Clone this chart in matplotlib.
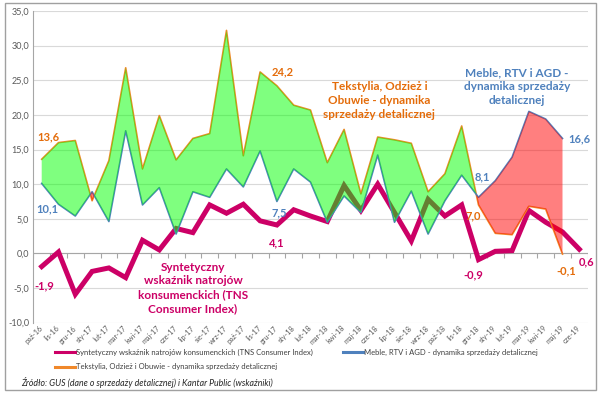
import matplotlib
matplotlib.use("Agg")
import matplotlib.pyplot as plt
import matplotlib.patches as mpatches
import numpy as np

plt.rcParams['font.family'] = ['Lato', 'DejaVu Sans']

# Data
months = ['paź-16', 'lis-16', 'gru-16', 'sty-17', 'lut-17', 'mar-17', 'kwi-17', 'maj-17',
          'cze-17', 'lip-17', 'sie-17', 'wrz-17', 'paź-17', 'lis-17', 'gru-17', 'sty-18',
          'lut-18', 'mar-18', 'kwi-18', 'maj-18', 'cze-18', 'lip-18', 'sie-18', 'wrz-18',
          'paź-18', 'lis-18', 'gru-18', 'sty-19', 'lut-19', 'mar-19', 'kwi-19', 'maj-19',
          'cze-19']
consumer = [-1.9, 0.2, -5.9, -2.6, -2.1, -3.5, 1.9, 0.5, 3.6, 3.0, 7.0, 5.8, 7.1, 4.7, 4.1,
            6.3, 5.4, 4.6, 9.8, 6.2, 10.0, 5.9, 1.8, 7.8, 5.4, 7.0, -0.9, 0.3, 0.4, 6.2,
            4.5, 3.1, 0.6]
furniture = [10.1, 7.1, 5.4, 8.9, 4.6, 17.7, 7.0, 9.5, 2.8, 8.9, 8.1, 12.2, 9.6, 14.8, 7.5,
             12.2, 10.3, 4.5, 8.3, 5.9, 14.2, 4.5, 9.0, 2.8, 7.6, 11.3, 8.1, 10.5, 13.9,
             20.5, 19.4, 16.6]
textiles = [13.6, 16.0, 16.3, 7.6, 13.4, 26.8, 12.2, 19.9, 13.5, 16.6, 17.3, 32.2, 14.1,
            26.2, 24.2, 21.4, 20.7, 13.1, 17.9, 8.6, 16.8, 16.4, 15.9, 8.9, 11.5, 18.4, 7.0,
            2.9, 2.7, 6.8, 6.4, -0.1]

PINK = '#CC0066'
BLUE = '#4F81BD'
ORANGE = '#F0882A'
ORANGE_TXT = '#E46C0A'
GRID = '#D9D9D9'
TICK = '#595959'

x = np.arange(len(months))
xf = x[:len(furniture)]
fur = np.array(furniture)
tex = np.array(textiles)

fig = plt.figure(figsize=(6.0, 3.93), dpi=100)
ax = fig.add_axes([0.0555, 0.179, 0.924, 0.793])

ax.plot(x, consumer, color=PINK, lw=3.6, solid_joinstyle='miter', zorder=2,
        label='Syntetyczny wskaźnik natrojów konsumenckich (TNS Consumer Index)')
ax.plot(xf, tex, color=ORANGE, lw=1.2, zorder=2,
        label='Tekstylia, Odzież i Obuwie - dynamika sprzedaży detalicznej')
ax.plot(xf, fur, color=BLUE, lw=1.2, zorder=2,
        label='Meble, RTV i AGD - dynamika sprzedaży detalicznej')

# shaded gap between the two retail series
late = xf >= 26
ax.fill_between(xf, tex, fur, where=(tex >= fur) & ~late, interpolate=True,
                color='#00FF00', alpha=0.5, lw=0, zorder=3)
ax.fill_between(xf, tex, fur, where=(fur >= tex) & ~(xf >= 25) | late, interpolate=True,
                color='#FF0000', alpha=0.5, lw=0, zorder=3)

ax.set_xlim(-0.5, len(months) - 0.5)
ax.set_ylim(-10, 35)
ax.set_yticks(np.arange(-10, 36, 5))
ax.set_yticklabels([f'{v:.1f}'.replace('.', ',') for v in np.arange(-10, 36, 5)],
                   fontsize=6.5, color=TICK)
ax.set_xticks(x)
ax.set_xticklabels(months, rotation=45, ha='right', va='center', rotation_mode='anchor',
                   fontsize=5.2, color=TICK)
ax.tick_params(axis='y', length=0, pad=3)
ax.tick_params(axis='x', length=0, pad=3)
ax.grid(axis='y', color=GRID, lw=0.8)
ax.set_axisbelow(True)
for s in ['top', 'right', 'bottom']:
    ax.spines[s].set_visible(False)
ax.spines['left'].set_color('#A6A6A6')
ax.spines['left'].set_linewidth(0.8)

# horizontal axis at zero with tick marks between categories
ax.axhline(0, color='#A6A6A6', lw=0.8, zorder=1)
ax.vlines(np.arange(-0.5, len(months)), -0.6, 0, color='#A6A6A6', lw=0.8, zorder=1)

# value labels
def lab(txt, xi, yi, dx, dy, color, size=8):
    ax.annotate(txt, xy=(xi, yi), xytext=(dx, dy), textcoords='offset points',
                ha='center', va='center', color=color, fontsize=size, fontweight='bold')

lab('13,6', 0, textiles[0], 5, 16, ORANGE_TXT)
lab('10,1', 0, furniture[0], 4, -18, BLUE)
lab('-1,9', 0, consumer[0], 2, -14, PINK)
lab('24,2', 14, textiles[14], 4, 10, ORANGE_TXT)
lab('7,5', 14, furniture[14], 2, -8, BLUE)
lab('4,1', 14, consumer[14], 0, -13, PINK)
lab('8,1', 26, furniture[26], 3, 15, BLUE)
lab('7,0', 26, textiles[26], -4, -8, ORANGE_TXT)
lab('-0,9', 26, consumer[26], -4, -11, PINK)
lab('16,6', 31, furniture[31], 12, 0, BLUE)
lab('-0,1', 31, textiles[31], 3, -12, ORANGE_TXT)
lab('0,6', 32, consumer[32], 5, -9, PINK)

ax.text(9.0, -4.95, 'Syntetyczny\nwskaźnik natrojów\nkonsumenckich (TNS\nConsumer Index)',
        ha='center', va='center', color=PINK, fontsize=8.5, fontweight='bold', linespacing=1.3)
ax.text(20.1, 22.1, 'Tekstylia, Odzież i\nObuwie - dynamika\nsprzedaży detalicznej',
        ha='center', va='center', color=ORANGE_TXT, fontsize=8.5, fontweight='bold',
        linespacing=1.3)
ax.text(28.3, 24.1, 'Meble, RTV i AGD -\ndynamika sprzedaży\ndetalicznej',
        ha='center', va='center', color=BLUE, fontsize=8.5, fontweight='bold',
        linespacing=1.3)

# legend under the plot
h, l = ax.get_legend_handles_labels()
leg = fig.legend(h, l, ncol=2, loc='upper left', bbox_to_anchor=(55 / 600, 1 - 349 / 393),
                 frameon=False, fontsize=5.5, handlelength=2.6, handletextpad=0.15,
                 columnspacing=4.0, labelspacing=0.95, borderaxespad=0, borderpad=0)
for line in leg.get_lines():
    line.set_linewidth(2.2)
for t in leg.get_texts():
    t.set_color('#404040')

fig.text(21 / 600, 1 - 382 / 393,
         'Źródło: GUS (dane o sprzedaży detalicznej) i Kantar Public (wskaźniki)',
         fontsize=6.3, style='italic', color='#262626', ha='left', va='center')

# chart-area frame
fig.patches.append(mpatches.Rectangle((5 / 600, 3 / 393), 591 / 600, 387 / 393,
                                      transform=fig.transFigure, fill=False,
                                      edgecolor='#A0A0A0', lw=1.0))

fig.savefig('out.png', dpi=100)
